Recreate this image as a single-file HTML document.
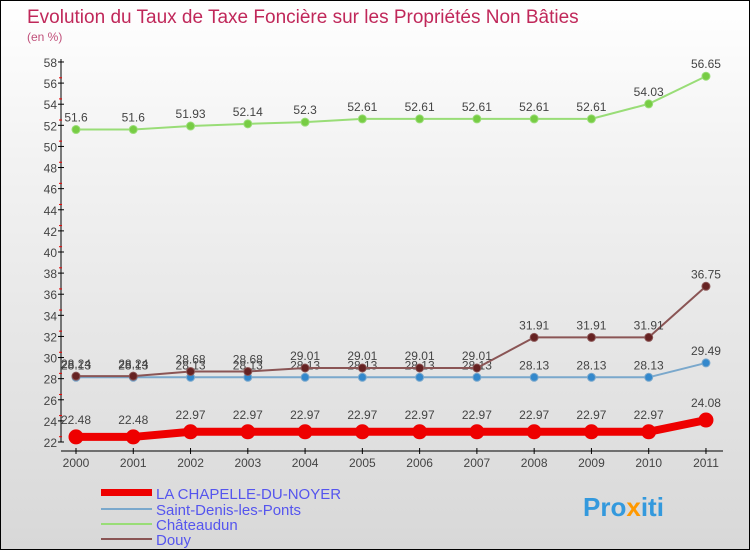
<!DOCTYPE html>
<html><head><meta charset="utf-8"><style>
body{margin:0;width:750px;height:550px;overflow:hidden}
#c{position:absolute;left:0;top:0;width:748px;height:548px;border:1px solid #000;background:linear-gradient(#fff,#f2f2f2 30%,#d8d8d8)}
text{font-family:"Liberation Sans",sans-serif}
</style></head><body>
<div id="c">
<svg width="750" height="550" id="svg">
<text x="26" y="22" font-size="19" fill="#c0285a">Evolution du Taux de Taxe Foncière sur les Propriétés Non Bâties</text>
<text x="26" y="40" font-size="12" fill="#c0507a">(en %)</text>
<g id="axes"></g><g id="series"></g>
<g>
<rect x="100" y="488" width="51" height="7" fill="#e00"/>
<text x="155" y="498" font-size="15" fill="#5555ee">LA CHAPELLE-DU-NOYER</text>
<rect x="100" y="507" width="51" height="2" fill="#7aa8cc"/>
<text x="155" y="514" font-size="15" fill="#5555ee">Saint-Denis-les-Ponts</text>
<rect x="100" y="522" width="51" height="2" fill="#99dd77"/>
<text x="155" y="529" font-size="15" fill="#5555ee">Châteaudun</text>
<rect x="100" y="537" width="51" height="2" fill="#8a5555"/>
<text x="155" y="544" font-size="15" fill="#5555ee">Douy</text>
</g>
<text x="582" y="515" font-size="26" font-weight="bold" fill="#3399dd">Pro<tspan fill="#ff9900">x</tspan>iti</text>
</svg></div>
<script>
const years=["2000","2001","2002","2003","2004","2005","2006","2007","2008","2009","2010","2011"];
const yTicks=[22,24,26,28,30,32,34,36,38,40,42,44,46,48,50,52,54,56,58];
const chapelle=[22.48,22.48,22.97,22.97,22.97,22.97,22.97,22.97,22.97,22.97,22.97,24.08];
const stdenis=[28.13,28.13,28.13,28.13,28.13,28.13,28.13,28.13,28.13,28.13,28.13,29.49];
const chateaudun=[51.6,51.6,51.93,52.14,52.3,52.61,52.61,52.61,52.61,52.61,54.03,56.65];
const douy=[28.24,28.24,28.68,28.68,29.01,29.01,29.01,29.01,31.91,31.91,31.91,36.75];
const NS="http://www.w3.org/2000/svg";
const X=i=>75+i*57.27, Y=v=>441-(v-22)*10.556;
function mk(t,a,p){const e=document.createElementNS(NS,t);for(const k in a)e.setAttribute(k,a[k]);p.appendChild(e);return e;}
const ax=document.getElementById('axes'),se=document.getElementById('series');
let l=mk('line',{x1:60,y1:58,x2:60,y2:441,stroke:'#000'},ax);


l=mk('line',{x1:60,y1:450,x2:722,y2:450,stroke:'#000'},ax);


yTicks.forEach((v,i)=>{const y=Y(v);mk('line',{x1:57,y1:y,x2:63,y2:y,stroke:'#000'},ax);
if(i<yTicks.length-1)mk('line',{x1:58,y1:y-5.3,x2:61,y2:y-5.3,stroke:'#e00'},ax);
const t=mk('text',{x:56,y:y+5,'font-size':12,fill:'#444','text-anchor':'end'},ax);t.textContent=v;

});
years.forEach((yr,i)=>{mk('line',{x1:X(i),y1:447,x2:X(i),y2:453,stroke:'#000'},ax);
const t=mk('text',{x:X(i),y:466,'font-size':12,fill:'#444','text-anchor':'middle'},ax);t.textContent=yr;

});
function series(d,name,col,w,r,fill){
const g=mk('g',{},se);


mk('polyline',{points:d.map((v,i)=>X(i)+','+Y(v)).join(' '),fill:'none',stroke:col,'stroke-width':w},g);
d.forEach((v,i)=>{const c=mk('circle',{cx:X(i),cy:Y(v),r:r,fill:fill,stroke:col,'stroke-width':1},g);


const t=mk('text',{x:X(i),y:Y(v)-8-(r>6?5:0),'font-size':12,fill:'#444','text-anchor':'middle'},g);
t.textContent=String(v).replace(/\.(\d)0?$/,'.$1');

});}
series(chateaudun,'chateaudun','#99dd77',2,4,'#77cc44');
series(stdenis,'saint-denis','#7aa8cc',2,4,'#3388cc');
series(douy,'douy','#8a5555',2,4,'#662222');
series(chapelle,'la-chapelle','#e00',8,7,'#e00');
</script>
</body></html>
